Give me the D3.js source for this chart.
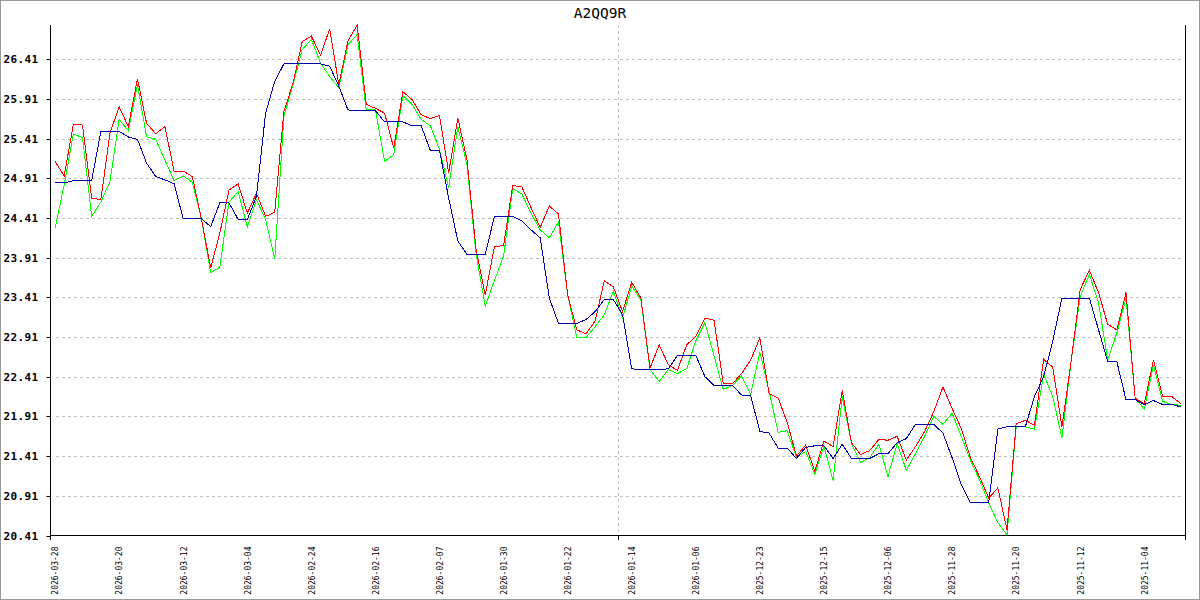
<!DOCTYPE html>
<html><head><meta charset="utf-8">
<script src="https://cdn.jsdelivr.net/npm/d3@7"></script>
<style>html,body{margin:0;padding:0;background:#fff}</style>
</head><body><svg id="c" width="1200" height="600"></svg>
<script>
const title = "A2QQ9R";
const tickLabels = ["2026-03-28","2026-03-20","2026-03-12","2026-03-04","2026-02-24","2026-02-16",
  "2026-02-07","2026-01-30","2026-01-22","2026-01-14","2026-01-06","2025-12-23",
  "2025-12-15","2025-12-06","2025-11-28","2025-11-20","2025-11-12","2025-11-04"];
const tickEvery = 7;
const yTicks = [20.41,20.91,21.41,21.91,22.41,22.91,23.41,23.91,24.41,24.91,25.41,25.91,26.41];

const red = [25.12,24.94,25.59,25.58,24.66,24.64,25.48,25.81,25.56,26.16,
25.60,25.47,25.56,25.00,25.00,24.93,24.39,23.78,24.22,24.76,
24.84,24.47,24.72,24.43,24.48,25.75,26.11,26.63,26.70,26.46,
26.79,26.09,26.64,26.84,25.84,25.79,25.73,25.29,26.00,25.90,
25.71,25.66,25.70,24.98,25.67,25.14,24.01,23.44,24.05,24.06,
24.82,24.80,24.54,24.29,24.56,24.46,23.44,23.00,22.95,23.11,
23.62,23.54,23.23,23.60,23.40,22.52,22.81,22.56,22.49,22.81,
22.92,23.15,23.12,22.32,22.32,22.45,22.62,22.90,22.20,22.14,
21.83,21.41,21.55,21.22,21.60,21.53,22.24,21.58,21.43,21.48,
21.62,21.61,21.66,21.36,21.53,21.72,21.97,22.28,22.01,21.76,
21.39,21.15,20.88,21.01,20.48,21.82,21.86,21.80,22.63,22.53,
21.78,22.60,23.51,23.75,23.47,23.07,23.00,23.47,22.14,22.07,
22.62,22.16,22.16,22.07];

const green = [24.28,24.83,25.47,25.42,24.43,24.61,24.87,25.65,25.51,26.09,
25.43,25.40,25.14,24.88,24.94,24.86,24.39,23.72,23.79,24.61,
24.74,24.30,24.64,24.39,23.89,25.69,26.09,26.53,26.66,26.36,
26.19,26.05,26.59,26.72,25.77,25.77,25.12,25.21,25.95,25.84,
25.65,25.57,25.27,24.79,25.56,25.08,23.95,23.30,23.62,23.93,
24.78,24.71,24.47,24.26,24.16,24.36,23.44,22.90,22.90,23.04,
23.19,23.49,23.15,23.55,23.38,22.50,22.35,22.50,22.45,22.51,
22.86,23.09,22.67,22.25,22.30,22.42,22.19,22.72,22.23,21.71,
21.73,21.39,21.47,21.18,21.54,21.10,22.16,21.57,21.33,21.39,
21.56,21.15,21.57,21.23,21.44,21.66,21.91,21.81,21.95,21.66,
21.36,21.11,20.82,20.57,20.42,21.78,21.78,21.75,22.44,22.16,
21.64,22.60,23.42,23.70,23.34,22.62,22.96,23.40,22.14,22.00,
22.56,22.10,22.06,22.05];

const blue = [24.85,24.85,24.88,24.88,24.88,25.50,25.50,25.50,25.43,25.40,
25.10,24.93,24.89,24.84,24.40,24.40,24.40,24.30,24.60,24.60,
24.39,24.39,24.68,25.73,26.13,26.35,26.35,26.35,26.35,26.35,
26.32,26.07,25.77,25.76,25.76,25.76,25.62,25.62,25.62,25.57,
25.57,25.26,25.26,24.66,24.12,23.95,23.95,23.95,24.43,24.43,
24.43,24.37,24.26,24.16,23.40,23.08,23.08,23.08,23.13,23.23,
23.38,23.38,23.19,22.51,22.50,22.50,22.50,22.51,22.68,22.68,
22.68,22.41,22.30,22.30,22.30,22.18,22.17,21.72,21.70,21.51,
21.51,21.38,21.52,21.54,21.54,21.38,21.56,21.38,21.38,21.38,
21.44,21.44,21.58,21.63,21.81,21.81,21.81,21.70,21.39,21.05,
20.82,20.82,20.82,21.75,21.78,21.78,21.78,22.16,22.41,22.86,
23.40,23.40,23.40,23.40,23.00,22.60,22.60,22.12,22.12,22.06,
22.11,22.06,22.06,22.03];

const categories = d3.range(red.length);
const series = [
  {name: "green", values: green, color: "#00ff00"},
  {name: "red", values: red, color: "#ff0000"},
  {name: "blue", values: blue, color: "#0000aa"}
];

const svg = d3.select("#c");
const L = 50.5, R = 1185.5, T = 25, B = 535.5;
const mono = "'DejaVu Sans Mono', monospace";

svg.append("rect").attr("x",0.5).attr("y",0.5).attr("width",1199).attr("height",599)
  .attr("fill","#fff").attr("stroke","#999");

const x = d3.scalePoint().domain(categories).range([L, R]).padding(0.5);
const y = d3.scaleLinear().domain([20.41, 26.84]).range([B, T]);

// horizontal grid
svg.append("g").selectAll("line").data(yTicks.slice(1)).join("line")
  .attr("x1", 56).attr("x2", 1182)
  .attr("y1", d => Math.round(y(d)) + 0.5).attr("y2", d => Math.round(y(d)) + 0.5)
  .attr("stroke", "#c0c0c0").attr("stroke-dasharray", "3,3");
// vertical center grid
const midX = Math.round((L + R) / 2) + 0.5;
svg.append("line").attr("x1", midX).attr("x2", midX).attr("y1", T).attr("y2", B)
  .attr("stroke", "#c0c0c0").attr("stroke-dasharray", "3,3");

// y axis ticks + labels
const yAxis = svg.append("g").attr("transform", `translate(${L},0)`)
  .call(d3.axisLeft(y).tickValues(yTicks).tickSize(4).tickPadding(8).tickFormat(d3.format(".2f")));
yAxis.select(".domain").remove();
yAxis.selectAll(".tick").attr("transform", d => `translate(0,${Math.round(y(d)) + 0.5})`);
yAxis.selectAll(".tick line").attr("stroke", "#000");
yAxis.selectAll(".tick text").attr("font-family", mono).attr("font-weight", "bold")
  .attr("font-size", "11px").attr("letter-spacing", "0.4px").attr("fill", "#000");

// x axis labels
const xAxis = svg.append("g").attr("transform", `translate(0,${B})`)
  .call(d3.axisBottom(x).tickValues(categories.filter(i => i % tickEvery === 0 && i / tickEvery < tickLabels.length))
    .tickSize(0).tickFormat(i => tickLabels[i / tickEvery]));
xAxis.select(".domain").remove();
xAxis.selectAll(".tick text").attr("transform", "rotate(-90)").attr("text-anchor", "end")
  .attr("x", -11).attr("y", 0).attr("dy", "0.35em")
  .attr("font-family", mono).attr("font-size", "8px").attr("fill", "#000");

// axis lines
svg.append("line").attr("x1", L).attr("x2", L).attr("y1", T).attr("y2", 540).attr("stroke", "#000");
svg.append("line").attr("x1", R).attr("x2", R).attr("y1", T).attr("y2", 540).attr("stroke", "#000");
svg.append("line").attr("x1", L).attr("x2", R).attr("y1", B).attr("y2", B).attr("stroke", "#000");
svg.append("line").attr("x1", midX).attr("x2", midX).attr("y1", B).attr("y2", 540).attr("stroke", "#000");

// series
const line = d3.line().x((d, i) => x(i)).y(d => y(d));
svg.append("g").selectAll("path").data(series).join("path")
  .attr("d", s => line(s.values)).attr("fill", "none")
  .attr("stroke", s => s.color).attr("stroke-width", 1).attr("shape-rendering", "crispEdges");

svg.append("text").attr("x", 600).attr("y", 18).attr("text-anchor", "middle")
  .attr("font-family", mono).attr("font-size", "14.5px").attr("fill", "#000").text(title);
</script></body></html>
